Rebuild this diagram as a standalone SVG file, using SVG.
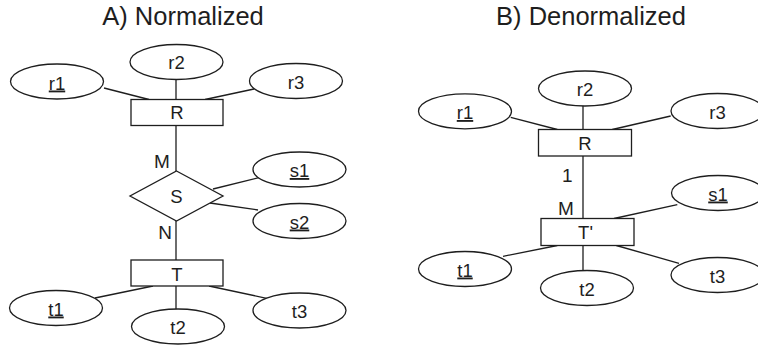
<svg xmlns="http://www.w3.org/2000/svg" width="758" height="347" viewBox="0 0 758 347">
<style>
  text { font-family: "Liberation Sans", Arial, sans-serif; fill: #1e1e1e; }
  .title { font-size: 25.5px; text-anchor: middle; }
  .lbl { font-size: 18.5px; text-anchor: middle; }
  .card { font-size: 19px; }
  .u { text-decoration: underline; }
  ellipse, rect, polygon { fill: #ffffff; stroke: #1e1e1e; stroke-width: 1.3; }
  .conn line { stroke: #1e1e1e; stroke-width: 1.3; }
</style>
<rect x="0" y="0" width="758" height="347" style="fill:#ffffff;stroke:none"/>
<text class="title" x="183" y="25">A) Normalized</text>
<text class="title" x="591" y="25">B) Denormalized</text>

<g id="connectors" class="conn">
  <line x1="104" y1="88" x2="149" y2="99.5"/>
  <line x1="176" y1="79.5" x2="176" y2="99.5"/>
  <line x1="254" y1="89" x2="205" y2="99.5"/>
  <line x1="176" y1="125.5" x2="176" y2="171"/>
  <line x1="213" y1="189" x2="266.7" y2="175.7"/>
  <line x1="210" y1="203" x2="258" y2="210"/>
  <line x1="176" y1="221" x2="176" y2="260"/>
  <line x1="95" y1="298" x2="153" y2="286"/>
  <line x1="176" y1="286" x2="176" y2="309"/>
  <line x1="209" y1="286" x2="266.7" y2="298.3"/>

  <line x1="510.7" y1="117.3" x2="557.3" y2="129.5"/>
  <line x1="583" y1="106" x2="583" y2="129.5"/>
  <line x1="670.7" y1="116" x2="612.3" y2="129.5"/>
  <line x1="583" y1="156" x2="583" y2="218.5"/>
  <line x1="677.3" y1="204.7" x2="614" y2="218.5"/>
  <line x1="503" y1="256.3" x2="557.3" y2="245.5"/>
  <line x1="583" y1="245.5" x2="583" y2="270.7"/>
  <line x1="616.3" y1="245.5" x2="679" y2="263.3"/>
</g>

<g id="labels">
  <text class="card" x="162" y="167.5" text-anchor="middle">M</text>
  <text class="card" x="165" y="239.3" text-anchor="middle">N</text>
  <text class="card" x="572.5" y="182" text-anchor="end">1</text>
  <text class="card" x="566" y="215" text-anchor="middle">M</text>
</g>

<g id="A_r1"><ellipse cx="57" cy="81.5" rx="46.5" ry="17.5"/><text class="lbl u" x="57" y="89.5">r1</text></g>
<g id="A_r2"><ellipse cx="176.5" cy="62" rx="46.5" ry="17.5"/><text class="lbl" x="176.5" y="69">r2</text></g>
<g id="A_r3"><ellipse cx="296" cy="81" rx="46.5" ry="17.5"/><text class="lbl" x="296" y="88.5">r3</text></g>
<g id="A_R"><rect x="131" y="99.5" width="92" height="26"/><text class="lbl" x="177" y="119">R</text></g>
<g id="A_S"><polygon points="176.5,171 223,196 176.5,221 130,196"/><text class="lbl" x="176.5" y="203">S</text></g>
<g id="A_s1"><ellipse cx="299.5" cy="169.5" rx="46.5" ry="17.5"/><text class="lbl u" x="299.5" y="177">s1</text></g>
<g id="A_s2"><ellipse cx="299.5" cy="221" rx="46.5" ry="17.5"/><text class="lbl u" x="299.5" y="228.5">s2</text></g>
<g id="A_T"><rect x="131" y="260" width="92" height="26"/><text class="lbl" x="177" y="280.5">T</text></g>
<g id="A_t1"><ellipse cx="56" cy="308" rx="46.5" ry="17.5"/><text class="lbl u" x="56" y="315.5">t1</text></g>
<g id="A_t2"><ellipse cx="178" cy="326.5" rx="46.5" ry="17.5"/><text class="lbl" x="178" y="334">t2</text></g>
<g id="A_t3"><ellipse cx="299.5" cy="310.5" rx="46.5" ry="17.5"/><text class="lbl" x="299.5" y="318">t3</text></g>

<g id="B_r1"><ellipse cx="465" cy="111.3" rx="46.5" ry="17.5"/><text class="lbl u" x="465" y="119">r1</text></g>
<g id="B_r2"><ellipse cx="585" cy="88.5" rx="46.5" ry="17.5"/><text class="lbl" x="585" y="96">r2</text></g>
<g id="B_r3"><ellipse cx="717.5" cy="111" rx="46.5" ry="17.5"/><text class="lbl" x="717.5" y="118.5">r3</text></g>
<g id="B_R"><rect x="538.5" y="129.5" width="93" height="26.5"/><text class="lbl" x="585" y="150">R</text></g>
<g id="B_T"><rect x="541" y="218.5" width="93" height="27"/><text class="lbl" x="585.5" y="239">T'</text></g>
<g id="B_s1"><ellipse cx="718" cy="193" rx="46.5" ry="17.5"/><text class="lbl u" x="718" y="200.5">s1</text></g>
<g id="B_t1"><ellipse cx="465" cy="269" rx="46.5" ry="17.5"/><text class="lbl u" x="465" y="276.5">t1</text></g>
<g id="B_t2"><ellipse cx="587" cy="288" rx="46.5" ry="17.5"/><text class="lbl" x="587" y="295.5">t2</text></g>
<g id="B_t3"><ellipse cx="717.5" cy="275" rx="46.5" ry="17.5"/><text class="lbl" x="717.5" y="282.5">t3</text></g>
</svg>
